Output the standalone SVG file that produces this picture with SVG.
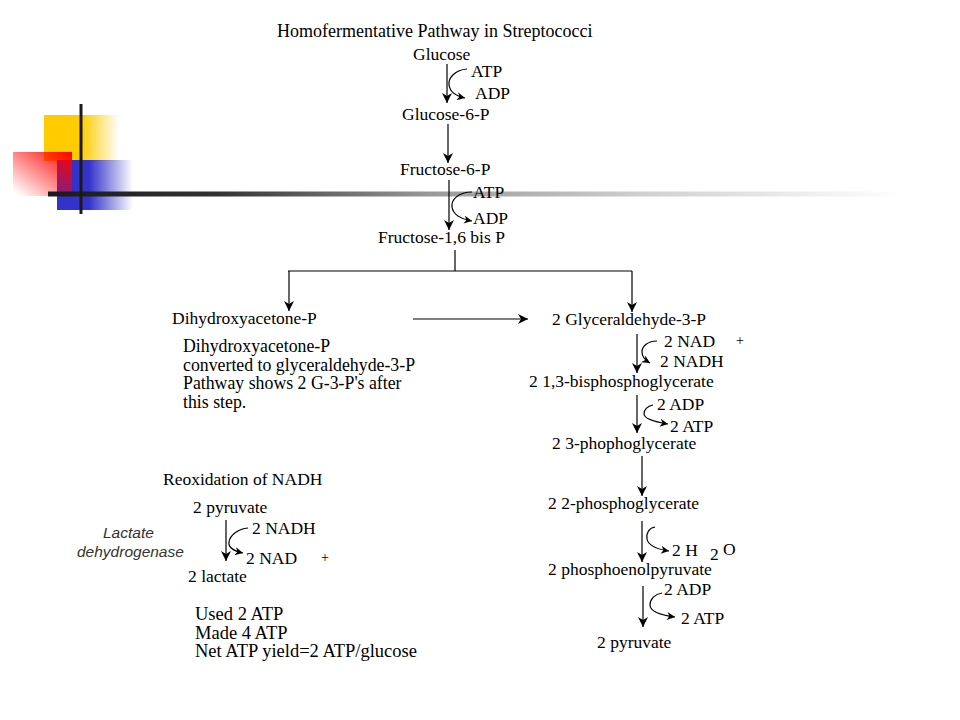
<svg xmlns="http://www.w3.org/2000/svg" width="960" height="720" viewBox="0 0 960 720">
<style>
text{font-family:"Liberation Serif","Times New Roman",serif;font-size:17.5px;fill:#000}
.p{font-size:17.8px}
.u{font-size:18.5px}
.t{font-size:18px}
.s{font-size:14px}
.i{font-family:"Liberation Sans",Arial,sans-serif;font-style:italic;font-size:15.5px;fill:#333}
.c line,.c path,.c polyline{stroke:#000;stroke-width:1.2;fill:none}
</style>
<defs>
<marker id="ah" viewBox="0 0 10 10" refX="10" refY="5" markerWidth="11" markerHeight="10" markerUnits="userSpaceOnUse" orient="auto">
<path d="M0,0 L10,5 L0,10 L3,5 z" fill="#000"/>
</marker>
<marker id="sh" viewBox="0 0 10 10" refX="10" refY="5" markerWidth="9" markerHeight="8" markerUnits="userSpaceOnUse" orient="auto">
<path d="M0,0 L10,5 L0,10 L3,5 z" fill="#000"/>
</marker>
<linearGradient id="gy" x1="0" y1="0" x2="1" y2="0">
<stop offset="0.5" stop-color="#FFCC00"/>
<stop offset="1" stop-color="#FFCC00" stop-opacity="0"/>
</linearGradient>
<linearGradient id="gb" x1="0" y1="0" x2="1" y2="0">
<stop offset="0.42" stop-color="#3333CC"/>
<stop offset="1" stop-color="#3333CC" stop-opacity="0"/>
</linearGradient>
<linearGradient id="gr" x1="0" y1="1" x2="1" y2="0">
<stop offset="0.05" stop-color="#FF0000" stop-opacity="0"/>
<stop offset="1" stop-color="#FF0000"/>
</linearGradient>
<linearGradient id="gl" x1="0" y1="0" x2="1" y2="0">
<stop offset="0" stop-color="#1a1a1a"/>
<stop offset="0.2" stop-color="#333"/>
<stop offset="0.45" stop-color="#999"/>
<stop offset="0.7" stop-color="#d0d0d0"/>
<stop offset="1" stop-color="#fff"/>
</linearGradient>
</defs>
<rect width="960" height="720" fill="#fff"/>
<g id="decoration">
<rect x="44" y="115" width="75" height="46" fill="url(#gy)"/>
<rect x="57" y="160" width="76" height="50" fill="url(#gb)"/>
<rect x="13" y="152" width="59" height="44" fill="url(#gr)"/>
<rect x="48" y="191.5" width="852" height="5" fill="url(#gl)"/>
<rect x="79.5" y="104" width="3" height="110" fill="#1a1a1a"/>
</g>
<g id="title"><text class="t" x="277" y="37">Homofermentative Pathway in Streptococci</text></g>
<g id="glucose"><text x="413" y="60">Glucose</text></g>
<g id="atp1"><text x="471" y="77">ATP</text></g>
<g id="adp1"><text x="475" y="99">ADP</text></g>
<g id="g6p"><text x="402" y="120">Glucose-6-P</text></g>
<g id="f6p"><text x="400" y="175">Fructose-6-P</text></g>
<g id="atp2"><text x="473" y="198">ATP</text></g>
<g id="adp2"><text x="473" y="224">ADP</text></g>
<g id="f16bp"><text x="378" y="243">Fructose-1,6 bis P</text></g>
<g id="dhap"><text x="172" y="324">Dihydroxyacetone-P</text></g>
<g id="note"><text class="p" x="183" y="352">Dihydroxyacetone-P</text><text class="p" x="183" y="370.5">converted to glyceraldehyde-3-P</text><text class="p" x="183" y="389">Pathway shows 2 G-3-P's after</text><text class="p" x="183" y="408">this step.</text></g>
<g id="g3p"><text x="552" y="325">2 Glyceraldehyde-3-P</text></g>
<g id="nad1"><text x="664" y="347">2 NAD</text><text class="s" x="736" y="345">+</text></g>
<g id="nadh1"><text x="660" y="367">2 NADH</text></g>
<g id="bpg"><text x="529" y="387">2 1,3-bisphosphoglycerate</text></g>
<g id="adp3"><text x="657" y="410">2 ADP</text></g>
<g id="atp3"><text x="670" y="432">2 ATP</text></g>
<g id="pg3"><text x="552" y="449">2 3-phophoglycerate</text></g>
<g id="pg2"><text x="548" y="509">2 2-phosphoglycerate</text></g>
<g id="h2o"><text x="672" y="556">2 H</text><text x="710" y="560">2</text><text x="723" y="555">O</text></g>
<g id="pep"><text x="548" y="575">2 phosphoenolpyruvate</text></g>
<g id="adp4"><text x="664" y="595">2 ADP</text></g>
<g id="atp4"><text x="681" y="624">2 ATP</text></g>
<g id="pyr"><text x="597" y="648">2 pyruvate</text></g>
<g id="reox"><text x="163" y="485">Reoxidation of NADH</text></g>
<g id="pyr2"><text x="193" y="513">2 pyruvate</text></g>
<g id="nadh2"><text x="252" y="534">2 NADH</text></g>
<g id="nad2"><text x="246" y="564">2 NAD</text><text class="s" x="321" y="562">+</text></g>
<g id="ldh"><text class="i" x="103" y="538">Lactate</text><text class="i" x="77" y="557">dehydrogenase</text></g>
<g id="lactate"><text x="188" y="582">2 lactate</text></g>
<g id="summary"><text class="u" x="195" y="620">Used 2 ATP</text><text class="u" x="195" y="638.5">Made 4 ATP</text><text class="u" x="195" y="657">Net ATP yield=2 ATP/glucose</text></g>
<g id="connectors" class="c">
<line x1="447" y1="64" x2="447" y2="103" marker-end="url(#ah)"/>
<path d="M467,69 C455,70 448,78 449,85 C450,92 456,96 465,98" marker-end="url(#sh)"/>
<line x1="448" y1="124" x2="448" y2="163" marker-end="url(#ah)"/>
<line x1="449" y1="180" x2="449" y2="230" marker-end="url(#ah)"/>
<path d="M472,192 C458,192 451,200 452,207 C453,214 461,219 472,221" marker-end="url(#sh)"/>
<polyline points="455,250 455,271"/>
<line x1="288" y1="271" x2="632" y2="271"/>
<line x1="289" y1="271" x2="289" y2="311" marker-end="url(#ah)"/>
<line x1="632" y1="271" x2="632" y2="312" marker-end="url(#ah)"/>
<line x1="413" y1="319" x2="528" y2="319" marker-end="url(#ah)"/>
<line x1="637" y1="334" x2="637" y2="373" marker-end="url(#ah)"/>
<path d="M657,341 C648,341 642,346 642,352 C642,357 645,360 650,363" marker-end="url(#sh)"/>
<line x1="637" y1="395" x2="637" y2="433" marker-end="url(#ah)"/>
<path d="M653,405 C647,406 644,410 644,414 C644,419 656,422 668,424" marker-end="url(#sh)"/>
<line x1="642" y1="456" x2="642" y2="496" marker-end="url(#ah)"/>
<line x1="642" y1="521" x2="642" y2="562" marker-end="url(#ah)"/>
<path d="M655,527 C649,528 646,533 647,539 C648,545 656,549 669,551" marker-end="url(#sh)"/>
<line x1="643" y1="586" x2="643" y2="627" marker-end="url(#ah)"/>
<path d="M662,593 C655,594 650,599 650,605 C650,611 660,615 675,617" marker-end="url(#sh)"/>
<line x1="226" y1="520" x2="226" y2="561" marker-end="url(#ah)"/>
<path d="M248,528 C238,529 230,535 229,542 C228,548 234,551 243,553" marker-end="url(#sh)"/>
</g>
</svg>
